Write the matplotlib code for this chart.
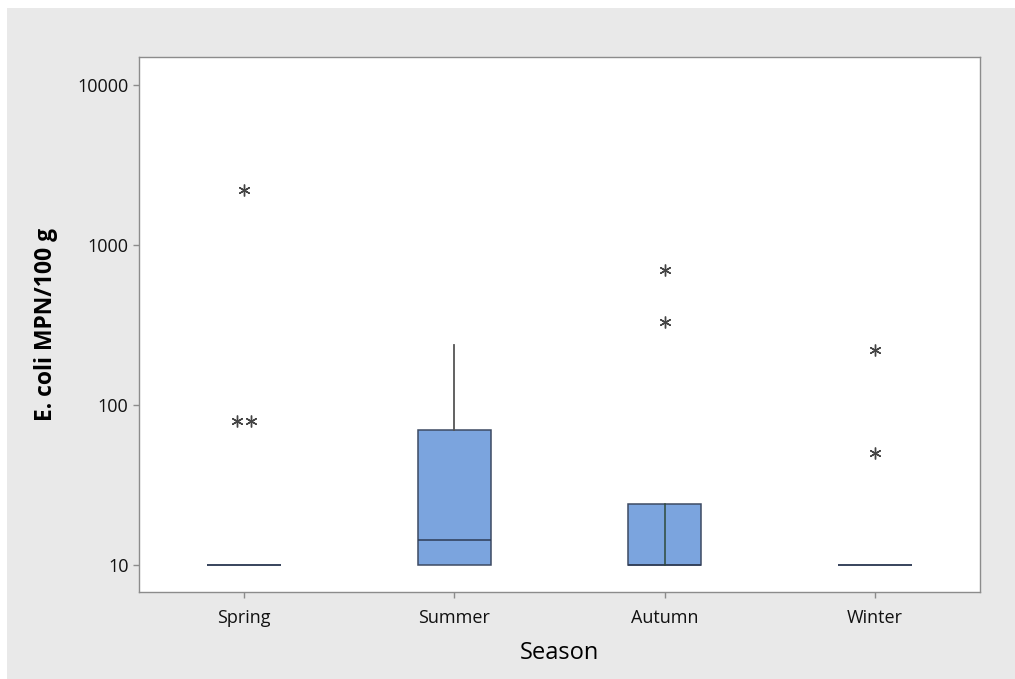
import matplotlib
matplotlib.use("Agg")
import matplotlib.pyplot as plt
from matplotlib.patches import Rectangle
from matplotlib.ticker import FixedLocator, NullLocator

seasons = ["Spring", "Summer", "Autumn", "Winter"]

# box summaries per season (MPN/100 g)
q1 = [10, 10, 10, 10]
med = [10, 14.3, 10, 10]
q3 = [10, 70, 24, 10]
whislo = [10, 10, 10, 10]
whishi = [10, 237, 24, 10]

# outliers per season
outliers = [
    [2200, 79, 79],
    [],
    [700, 330],
    [220, 50],
]

yticks = [10, 100, 1000, 10000]

plt.rcParams['font.family'] = ['Open Sans', 'DejaVu Sans']

fig = plt.figure(figsize=(10.15, 6.79), dpi=100, facecolor="white")
fig.patches.append(Rectangle((0.007, 0.0), 0.993, 0.988, transform=fig.transFigure,
                             facecolor="#e9e9e9", edgecolor="none", zorder=-10))
ax = fig.add_axes([0.137, 0.128, 0.8285, 0.788])
ax.set_zorder(1)
ax.set_facecolor("white")

stats = []
for i in range(len(seasons)):
    stats.append(dict(q1=q1[i], med=med[i], q3=q3[i], whislo=whislo[i],
                      whishi=whishi[i], fliers=[], label=seasons[i]))

pos = list(range(len(seasons)))
ax.bxp(stats, positions=pos, widths=0.35, patch_artist=True, showcaps=False,
       boxprops=dict(facecolor="#7ba4de", edgecolor="#3d4a63", linewidth=1.1),
       medianprops=dict(color="#2e3b55", linewidth=1.1),
       whiskerprops=dict(color="#555555", linewidth=1.3))

# Autumn box has its centre line drawn vertically
ax.plot([2, 2], [q1[2], q3[2]], color="#2f4a3c", linewidth=1.1, zorder=3)

# tied outliers are set side by side
for i, vals in enumerate(outliers):
    seen = {}
    for v in vals:
        seen[v] = seen.get(v, 0) + 1
    for v, n in seen.items():
        for k in range(n):
            dx = (k - (n - 1) / 2) * 0.068
            ax.plot(i + dx, v, marker=(6, 2, 0), markersize=8.5, color="#444444",
                    markeredgewidth=1.0, linestyle="none", zorder=4)

ax.set_yscale("log")
ax.set_ylim(6.78, 14960)
ax.set_xlim(-0.5, 3.5)
ax.yaxis.set_major_locator(FixedLocator(yticks))
ax.yaxis.set_minor_locator(NullLocator())
ax.set_yticklabels([str(t) for t in yticks])
ax.set_xticks(pos)
ax.set_xticklabels(seasons)

for s in ax.spines.values():
    s.set_color("#8c8c8c")
    s.set_linewidth(1.0)
ax.tick_params(axis="both", colors="#8c8c8c", labelcolor="#111111",
               labelsize=13, length=4, width=1)
ax.tick_params(axis="x", pad=8)

ax.set_ylabel("E. coli MPN/100 g", fontsize=16.5, fontweight="bold", labelpad=14)
ax.set_xlabel("Season", fontsize=17, labelpad=10)

fig.savefig("out.png", dpi=100, facecolor=fig.get_facecolor())
